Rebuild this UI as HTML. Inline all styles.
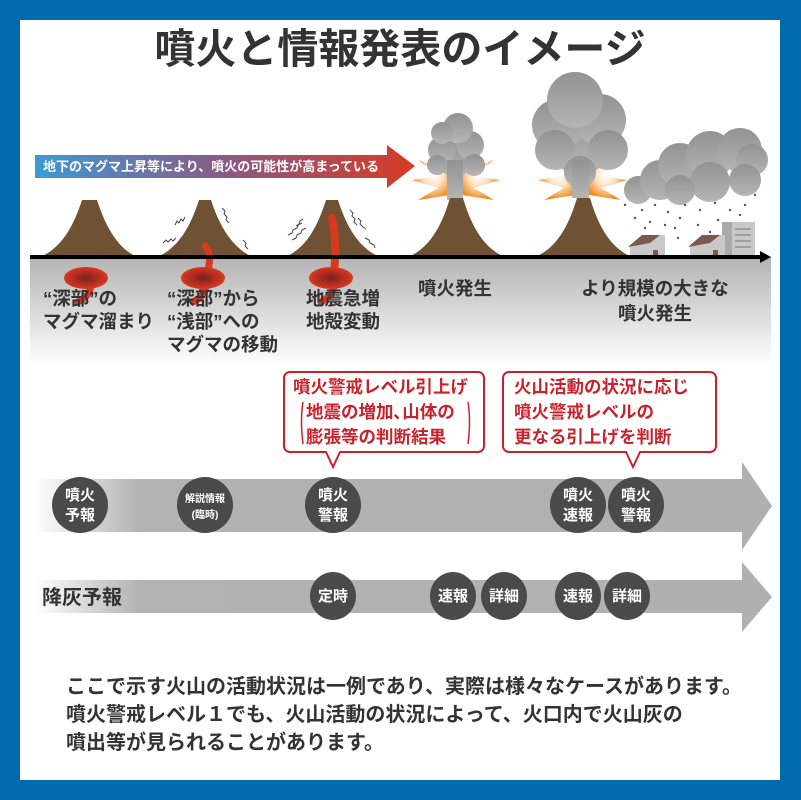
<!DOCTYPE html>
<html><head><meta charset="utf-8"><style>
html,body{margin:0;padding:0;background:#006cb0;}
svg{display:block}
text{font-family:"Liberation Sans","Noto Sans CJK JP",sans-serif;font-weight:bold;}
</style></head><body>
<svg width="801" height="800" viewBox="0 0 801 800" xmlns="http://www.w3.org/2000/svg">
<defs>
<linearGradient id="topArrow" x1="0" x2="1" y1="0" y2="0">
<stop offset="0" stop-color="#3d9ad3"/><stop offset="0.5" stop-color="#8a5a86"/><stop offset="1" stop-color="#d83a22"/></linearGradient>
<linearGradient id="ground" x1="0" x2="0" y1="0" y2="1">
<stop offset="0" stop-color="#b3b3b3"/><stop offset="1" stop-color="#fdfdfd"/></linearGradient>
<linearGradient id="tl" x1="0" x2="1" y1="0" y2="0">
<stop offset="0" stop-color="#fff"/><stop offset="0.14" stop-color="#b3b3b3"/><stop offset="1" stop-color="#b0b0b0"/></linearGradient>
<radialGradient id="mag"><stop offset="0" stop-color="#7a2020"/><stop offset="1" stop-color="#d9381e"/></radialGradient>
<radialGradient id="burst"><stop offset="0" stop-color="#fff"/><stop offset="0.45" stop-color="#fde3c5"/><stop offset="1" stop-color="#f08a18"/></radialGradient>
<linearGradient id="smoke" x1="0" x2="0" y1="0" y2="1"><stop offset="0" stop-color="#929292"/><stop offset="1" stop-color="#b5b5b5"/></linearGradient>
</defs>
<rect x="20" y="20" width="760" height="760" fill="#fff"/>
<text x="400" y="63" font-size="41" fill="#333" text-anchor="middle">噴火と情報発表のイメージ</text>

<rect x="30" y="257" width="741" height="105" fill="url(#ground)"/>

<path d="M35,155 H387 V145 L415,166 L387,188 V178 H35 Z" fill="url(#topArrow)"/>
<text x="43" y="171" font-size="13" fill="#fff">地下のマグマ上昇等により、噴火の可能性が高まっている</text>

<g fill="url(#burst)">
<path d="M450,195 L418,200 L438,188 L412,180 L438,176 L418,160 L445,170 L440,150 L455,185 Z"/>
<path d="M462,195 L494,200 L474,188 L500,180 L474,176 L494,160 L467,170 L472,150 L457,185 Z"/>
<path d="M576,195 L544,200 L564,188 L538,180 L564,176 L544,160 L571,170 L566,150 L581,185 Z"/>
<path d="M589,195 L621,200 L601,188 L627,180 L601,176 L621,160 L594,170 L599,150 L584,185 Z"/>
</g>
<g fill="url(#smoke)">
<circle cx="455" cy="160" r="17"/><circle cx="442" cy="150" r="14"/><circle cx="470" cy="145" r="14"/><circle cx="458" cy="128" r="15"/><circle cx="442" cy="133" r="11"/><circle cx="474" cy="165" r="11"/><circle cx="437" cy="165" r="10"/>
<rect x="447" y="160" width="16" height="40"/>
<circle cx="580" cy="140" r="34"/><circle cx="558" cy="125" r="26"/><circle cx="600" cy="120" r="26"/><circle cx="575" cy="100" r="28"/><circle cx="555" cy="150" r="20"/><circle cx="608" cy="150" r="20"/><circle cx="580" cy="172" r="16"/>
<rect x="572" y="160" width="17" height="38"/>
<circle cx="638" cy="190" r="14"/><circle cx="660" cy="180" r="20"/><circle cx="680" cy="165" r="22"/><circle cx="710" cy="155" r="24"/><circle cx="740" cy="150" r="22"/><circle cx="752" cy="160" r="16"/><circle cx="745" cy="180" r="16"/><circle cx="710" cy="182" r="20"/><circle cx="680" cy="190" r="15"/>
</g>
<g fill="#555">
<circle cx="625" cy="205" r="1.2"/><circle cx="642" cy="210" r="1.2"/><circle cx="655" cy="205" r="1.2"/><circle cx="668" cy="212" r="1.2"/><circle cx="685" cy="205" r="1.2"/><circle cx="700" cy="210" r="1.2"/><circle cx="715" cy="203" r="1.2"/><circle cx="730" cy="210" r="1.2"/><circle cx="745" cy="205" r="1.2"/><circle cx="755" cy="195" r="1.2"/>
<circle cx="635" cy="218" r="1.2"/><circle cx="650" cy="222" r="1.2"/><circle cx="665" cy="225" r="1.2"/><circle cx="680" cy="218" r="1.2"/><circle cx="698" cy="225" r="1.2"/><circle cx="718" cy="220" r="1.2"/><circle cx="740" cy="215" r="1.2"/>
<circle cx="645" cy="228" r="1.2"/><circle cx="675" cy="228" r="1.2"/><circle cx="710" cy="232" r="1.2"/><circle cx="678" cy="238" r="1.2"/>
</g>
<rect x="722" y="222" width="33" height="35" fill="#c8c8c8"/>
<rect x="722" y="222" width="10" height="35" fill="#aaa"/>
<g fill="#a0a0a0"><rect x="735" y="228" width="16" height="2"/><rect x="735" y="234" width="16" height="2"/><rect x="735" y="240" width="16" height="2"/><rect x="735" y="246" width="16" height="2"/></g>
<g>
<path d="M630,245 L643,235 L665,235 L665,257 L630,257 Z" fill="#c9c9c9"/><path d="M628,247 L642,235 L660,235 L650,243 Z" fill="#7b5a4c"/>
<rect x="653" y="250" width="5" height="7" fill="#7b5a4c"/>
<path d="M690,245 L703,235 L725,235 L725,257 L690,257 Z" fill="#c9c9c9"/><path d="M688,247 L702,235 L720,235 L710,243 Z" fill="#7b5a4c"/>
<rect x="713" y="250" width="5" height="7" fill="#7b5a4c"/>
</g>

<g fill="#6e5233">
<path d="M40,257 C62,248 74,225 82,200 L97,200 C105,225 117,248 137,257 Z"/>
<path d="M157,257 C179,248 191,225 199,200 L211,200 C219,225 232,248 253,257 Z"/>
<path d="M285,257 C307,248 318,225 326,200 L338,200 C346,225 358,248 380,257 Z"/>
<path d="M408,257 C430,248 442,225 450,198 L463,198 C471,225 483,248 505,257 Z"/>
<path d="M535,257 C557,248 569,225 577,198 L590,198 C598,225 610,248 632,257 Z"/>
</g>
<g stroke="#444" stroke-width="1" fill="none">
<path d="M163,243 l3,-3 l2,2 l3,-3 l2,2 l3,-3"/><path d="M175,225 l2,-4 l2,2 l2,-4 l2,2 l2,-4"/>
<path d="M222,208 l3,3 l-1,3 l3,3 l-1,3 l3,3"/><path d="M243,240 l3,3 l-1,3 l3,3"/>
<path d="M288,235 l4,-2 l1,-3 l4,-2 l1,-3 l4,-2 M292,240 l4,-2 l1,-3 l4,-2 l1,-3 l4,-2 M296,226 l3,-2 l1,-3 l3,-2"/>
<path d="M350,210 l3,3 l-1,3 l3,3 l-1,3 l3,3 M358,218 l3,3 l-1,3 l3,3 l3,2 M365,238 l4,2 l1,3 l4,2 l1,3"/>
</g>
<g>
<path d="M205,246 C212,252 210,270 204,280" stroke="#d9381e" stroke-width="7" fill="none" stroke-linecap="round"/>
<path d="M332,218 C336,235 336,260 333,280" stroke="#d9381e" stroke-width="8" fill="none" stroke-linecap="round"/>
<path d="M90,285 C92,292 85,298 78,302" stroke="#d9381e" stroke-width="7" fill="none" stroke-linecap="round"/>
<path d="M205,285 C207,292 200,298 193,302" stroke="#d9381e" stroke-width="7" fill="none" stroke-linecap="round"/>
<path d="M333,285 C335,292 328,298 321,302" stroke="#d9381e" stroke-width="7" fill="none" stroke-linecap="round"/>
<ellipse cx="86" cy="278" rx="22" ry="11" fill="url(#mag)"/>
<ellipse cx="203" cy="278" rx="22" ry="11" fill="url(#mag)"/>
<ellipse cx="331" cy="278" rx="22" ry="11" fill="url(#mag)"/>
</g>
<rect x="30" y="255" width="732" height="4" fill="#000"/>
<path d="M760,251 L771,257 L760,263 Z" fill="#000"/>

<g font-size="18.5" fill="#333">
<text x="43" y="305">“深部”の</text><text x="43" y="328">マグマ溜まり</text>
<text x="167" y="305">“深部”から</text><text x="167" y="328">“浅部”への</text><text x="167" y="351">マグマの移動</text>
<text x="306" y="305">地震急増</text><text x="306" y="328">地殻変動</text>
<text x="418" y="295">噴火発生</text>
<text x="655" y="295" text-anchor="middle">より規模の大きな</text><text x="655" y="320" text-anchor="middle">噴火発生</text>
</g>

<g fill="#fff" stroke="#c8232c" stroke-width="2">
<path d="M290,372 H478 a6,6 0 0 1 6,6 V446 a6,6 0 0 1 -6,6 H340 L333,467 L326,452 H290 a6,6 0 0 1 -6,-6 V378 a6,6 0 0 1 6,-6 Z"/>
<path d="M509,372 H710 a6,6 0 0 1 6,6 V446 a6,6 0 0 1 -6,6 H640 L633,467 L626,452 H509 a6,6 0 0 1 -6,-6 V378 a6,6 0 0 1 6,-6 Z"/>
</g>
<g font-size="17.5" fill="#c8232c">
<text x="293" y="393">噴火警戒レベル引上げ</text>
<text x="306" y="418">地震の増加､山体の</text>
<text x="306" y="443">膨張等の判断結果</text>
<text x="514" y="393">火山活動の状況に応じ</text>
<text x="514" y="418">噴火警戒レベルの</text>
<text x="514" y="443">更なる引上げを判断</text>
</g>
<path d="M303,402 q-3,18 0,42 M468,402 q3,18 0,42" stroke="#c8232c" stroke-width="1.5" fill="none"/>

<path d="M35,479 H742 V462 L772,506 L742,550 V532 H35 Z" fill="url(#tl)"/>
<path d="M35,580 H742 V562 L772,597 L742,632 V613 H35 Z" fill="url(#tl)"/>
<g fill="#4a4a4a">
<ellipse cx="80" cy="505" rx="28" ry="28"/><ellipse cx="205" cy="505" rx="28" ry="28"/><ellipse cx="333" cy="505" rx="28" ry="28"/><ellipse cx="578" cy="505" rx="28" ry="28"/><ellipse cx="636" cy="505" rx="28" ry="28"/>
<ellipse cx="333" cy="596" rx="23" ry="24"/><ellipse cx="453" cy="596" rx="23" ry="24"/><ellipse cx="504" cy="596" rx="23" ry="24"/><ellipse cx="578" cy="596" rx="23" ry="24"/><ellipse cx="627" cy="596" rx="23" ry="24"/>
</g>
<g font-size="15" fill="#fff" text-anchor="middle">
<text x="80" y="500">噴火</text><text x="80" y="520">予報</text>
<text x="333" y="500">噴火</text><text x="333" y="520">警報</text>
<text x="578" y="500">噴火</text><text x="578" y="520">速報</text>
<text x="636" y="500">噴火</text><text x="636" y="520">警報</text>
<text x="205" y="502" font-size="10">解説情報</text><text x="205" y="518" font-size="10">(臨時)</text>
<text x="333" y="601">定時</text><text x="453" y="601">速報</text><text x="504" y="601">詳細</text><text x="578" y="601">速報</text><text x="627" y="601">詳細</text>
</g>
<text x="42" y="604" font-size="20" fill="#333">降灰予報</text>

<g font-size="20" fill="#333">
<text x="66" y="693">ここで示す火山の活動状況は一例であり、実際は様々なケースがあります。</text>
<text x="66" y="721">噴火警戒レベル１でも、火山活動の状況によって、火口内で火山灰の</text>
<text x="66" y="749">噴出等が見られることがあります。</text>
</g>
</svg>
</body></html>
